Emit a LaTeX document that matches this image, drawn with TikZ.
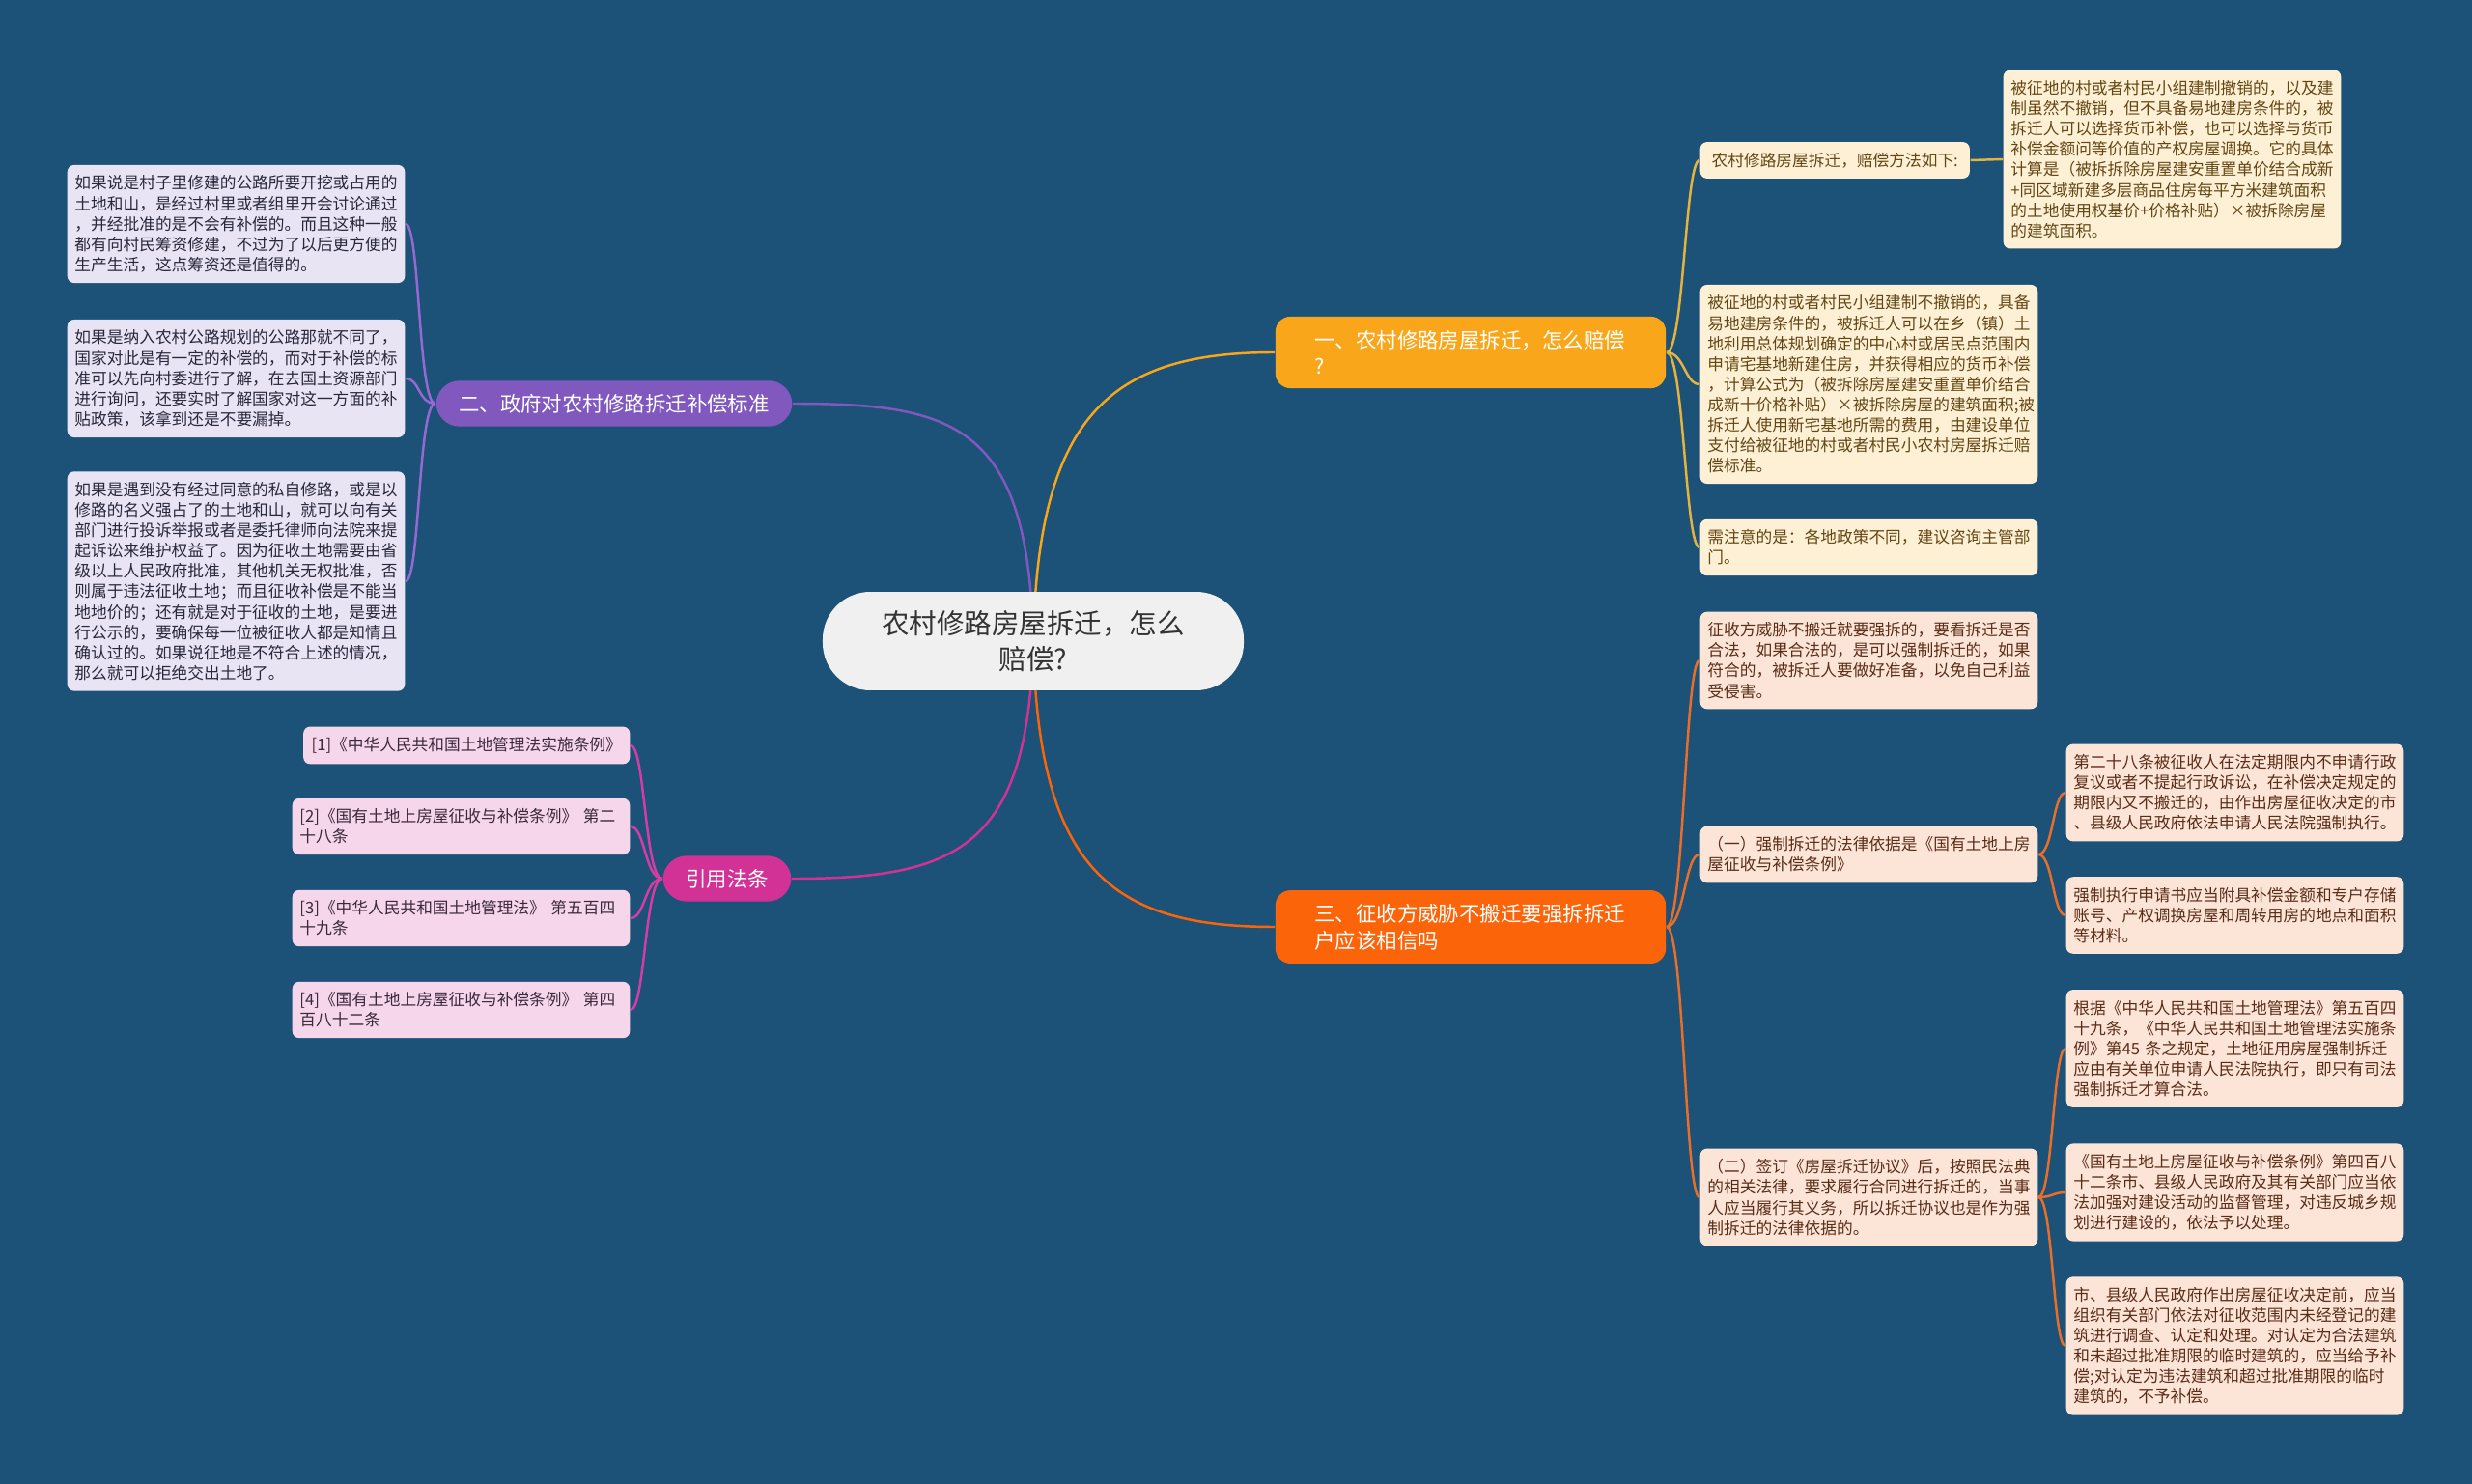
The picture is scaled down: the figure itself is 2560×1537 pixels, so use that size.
\documentclass[tikz,border=0pt]{standalone}
\usepackage{fontspec}
\newfontfamily\cjkfont{Noto Sans CJK SC}
\usepackage{tikz}
\usetikzlibrary{positioning}

\definecolor{bgblue}{RGB}{28,82,120}
\definecolor{rootfill}{RGB}{240,240,240}
\definecolor{rootink}{RGB}{51,51,51}
\definecolor{amber}{RGB}{250,166,26}
\definecolor{redorange}{RGB}{252,100,10}
\definecolor{violet}{RGB}{128,88,190}
\definecolor{magenta}{RGB}{210,50,150}
\definecolor{creamA}{RGB}{253,240,213}
\definecolor{peachC}{RGB}{252,228,214}
\definecolor{lavB}{RGB}{232,228,243}
\definecolor{pinkD}{RGB}{245,214,234}
\definecolor{inkA}{RGB}{100,70,20}
\definecolor{inkC}{RGB}{90,45,25}
\definecolor{inkB}{RGB}{40,40,60}
\definecolor{inkD}{RGB}{60,40,60}
\definecolor{lineA}{RGB}{230,180,60}
\definecolor{lineC}{RGB}{235,110,40}
\definecolor{lineB}{RGB}{150,105,210}
\definecolor{lineD}{RGB}{215,60,165}

\pgfdeclarelayer{back}
\pgfsetlayers{back,main}

\begin{document}
\begin{tikzpicture}[
x=0.01cm, y=-0.01cm,
root/.style={font=\cjkfont\fontsize{8.1}{10.7}\selectfont, fill=rootfill, text=rootink, rounded corners=14pt, minimum width=124pt, minimum height=29pt, align=center},
branch/.style={font=\cjkfont\fontsize{6.1}{7.9}\selectfont, text=white, inner ysep=3.9pt},
bigbranch/.style={branch, text width=92pt, align=left, inner xsep=11.5pt, inner ysep=4pt, rounded corners=4.5pt},
smallbranch/.style={branch, inner xsep=6.7pt, rounded corners=7pt},
leaf/.style={font=\cjkfont\fontsize{4.75}{6}\selectfont, rounded corners=2pt, inner xsep=2.4pt, inner ysep=3.1pt},
wide/.style={leaf, text width=95pt, inner xsep=2.2pt, align=left},
link/.style={line width=0.7pt} ]

\useasboundingbox (0,0) rectangle (2560,1537);
\begin{pgfonlayer}{back}
\fill[bgblue] (0,0) rectangle (2560,1537);
\end{pgfonlayer}

\node[root](R) at (1070,664) {农村修路房屋拆迁，怎么\\赔偿?};

\node[bigbranch, fill=amber](B1) at (1523,365) {一、农村修路房屋拆迁，怎么赔偿\\?};
\node[smallbranch, fill=violet](B2) at (636,418) {二、政府对农村修路拆迁补偿标准};
\node[bigbranch, fill=redorange](B3) at (1523,960) {三、征收方威胁不搬迁要强拆拆迁\\户应该相信吗};
\node[smallbranch, fill=magenta](B4) at (753,910) {引用法条};

\node[leaf, fill=creamA, text=inkA, anchor=west, inner xsep=3.4pt](A1) at (1760,166) {农村修路房屋拆迁，赔偿方法如下:};
\node[wide, fill=creamA, text=inkA, anchor=west](A11) at (2074,165) {被征地的村或者村民小组建制撤销的，以及建\\制虽然不撤销，但不具备易地建房条件的，被\\拆迁人可以选择货币补偿，也可以选择与货币\\补偿金额问等价值的产权房屋调换。它的具体\\计算是（被拆拆除房屋建安重置单价结合成新\\+同区域新建多层商品住房每平方米建筑面积\\的土地使用权基价+价格补贴）×被拆除房屋\\的建筑面积。};
\node[wide, fill=creamA, text=inkA, anchor=west](A2) at (1760,398) {被征地的村或者村民小组建制不撤销的，具备\\易地建房条件的，被拆迁人可以在乡（镇）土\\地利用总体规划确定的中心村或居民点范围内\\申请宅基地新建住房，并获得相应的货币补偿\\，计算公式为（被拆除房屋建安重置单价结合\\成新十价格补贴）×被拆除房屋的建筑面积;被\\拆迁人使用新宅基地所需的费用，由建设单位\\支付给被征地的村或者村民小农村房屋拆迁赔\\偿标准。};
\node[wide, fill=creamA, text=inkA, anchor=west](A3) at (1760,567) {需注意的是：各地政策不同，建议咨询主管部\\门。};

\node[wide, fill=peachC, text=inkC, anchor=west](C1) at (1760,684) {征收方威胁不搬迁就要强拆的，要看拆迁是否\\合法，如果合法的，是可以强制拆迁的，如果\\符合的，被拆迁人要做好准备，以免自己利益\\受侵害。};
\node[wide, fill=peachC, text=inkC, anchor=west](C2) at (1760,885) {（一）强制拆迁的法律依据是《国有土地上房\\屋征收与补偿条例》};
\node[wide, fill=peachC, text=inkC, anchor=west](C3) at (1760,1240) {（二）签订《房屋拆迁协议》后，按照民法典\\的相关法律，要求履行合同进行拆迁的，当事\\人应当履行其义务，所以拆迁协议也是作为强\\制拆迁的法律依据的。};
\node[wide, fill=peachC, text=inkC, anchor=west](C21) at (2139,821) {第二十八条被征收人在法定期限内不申请行政\\复议或者不提起行政诉讼，在补偿决定规定的\\期限内又不搬迁的，由作出房屋征收决定的市\\、县级人民政府依法申请人民法院强制执行。};
\node[wide, fill=peachC, text=inkC, anchor=west](C22) at (2139,948) {强制执行申请书应当附具补偿金额和专户存储\\账号、产权调换房屋和周转用房的地点和面积\\等材料。};
\node[wide, fill=peachC, text=inkC, anchor=west](C31) at (2139,1086) {根据《中华人民共和国土地管理法》第五百四\\十九条，《中华人民共和国土地管理法实施条\\例》第45 条之规定，土地征用房屋强制拆迁\\应由有关单位申请人民法院执行，即只有司法\\强制拆迁才算合法。};
\node[wide, fill=peachC, text=inkC, anchor=west](C32) at (2139,1235) {《国有土地上房屋征收与补偿条例》第四百八\\十二条市、县级人民政府及其有关部门应当依\\法加强对建设活动的监督管理，对违反城乡规\\划进行建设的，依法予以处理。};
\node[wide, fill=peachC, text=inkC, anchor=west](C33) at (2139,1394) {市、县级人民政府作出房屋征收决定前，应当\\组织有关部门依法对征收范围内未经登记的建\\筑进行调查、认定和处理。对认定为合法建筑\\和未超过批准期限的临时建筑的，应当给予补\\偿;对认定为违法建筑和超过批准期限的临时\\建筑的，不予补偿。};

\node[wide, fill=lavB, text=inkB, anchor=east](L1) at (420,232) {如果说是村子里修建的公路所要开挖或占用的\\土地和山，是经过村里或者组里开会讨论通过\\，并经批准的是不会有补偿的。而且这种一般\\都有向村民筹资修建，不过为了以后更方便的\\生产生活，这点筹资还是值得的。};
\node[wide, fill=lavB, text=inkB, anchor=east](L2) at (420,392) {如果是纳入农村公路规划的公路那就不同了，\\国家对此是有一定的补偿的，而对于补偿的标\\准可以先向村委进行了解，在去国土资源部门\\进行询问，还要实时了解国家对这一方面的补\\贴政策，该拿到还是不要漏掉。};
\node[wide, fill=lavB, text=inkB, anchor=east](L3) at (420,602) {如果是遇到没有经过同意的私自修路，或是以\\修路的名义强占了的土地和山，就可以向有关\\部门进行投诉举报或者是委托律师向法院来提\\起诉讼来维护权益了。因为征收土地需要由省\\级以上人民政府批准，其他机关无权批准，否\\则属于违法征收土地；而且征收补偿是不能当\\地地价的；还有就是对于征收的土地，是要进\\行公示的，要确保每一位被征收人都是知情且\\确认过的。如果说征地是不符合上述的情况，\\那么就可以拒绝交出土地了。};

\node[leaf, fill=pinkD, text=inkD, anchor=east](D1) at (653,772) {[1]《中华人民共和国土地管理法实施条例》};
\node[wide, fill=pinkD, text=inkD, anchor=east](D2) at (653,856) {[2]《国有土地上房屋征收与补偿条例》 第二\\十八条};
\node[wide, fill=pinkD, text=inkD, anchor=east](D3) at (653,951) {[3]《中华人民共和国土地管理法》 第五百四\\十九条};
\node[wide, fill=pinkD, text=inkD, anchor=east](D4) at (653,1046) {[4]《国有土地上房屋征收与补偿条例》 第四\\百八十二条};

\begin{pgfonlayer}{back}
\draw[link, draw=amber] (R.center) .. controls (1075,430) and (1150,365) .. (B1.west);
\draw[link, draw=violet] (R.center) .. controls (1065,440) and (990,418) .. (B2.east);
\draw[link, draw=redorange] (R.center) .. controls (1075,900) and (1150,960) .. (B3.west);
\draw[link, draw=magenta] (R.center) .. controls (1065,880) and (990,910) .. (B4.east);

\draw[link, draw=lineA] (B1.east) .. controls +(18,0) and +(-15,0) .. (A1.west);
\draw[link, draw=lineA] (B1.east) .. controls +(18,0) and +(-15,0) .. (A2.west);
\draw[link, draw=lineA] (B1.east) .. controls +(18,0) and +(-15,0) .. (A3.west);
\draw[link, draw=lineA] (A1.east) -- (A11.west);

\draw[link, draw=lineC] (B3.east) .. controls +(18,0) and +(-15,0) .. (C1.west);
\draw[link, draw=lineC] (B3.east) .. controls +(18,0) and +(-15,0) .. (C2.west);
\draw[link, draw=lineC] (B3.east) .. controls +(18,0) and +(-15,0) .. (C3.west);
\draw[link, draw=lineC] (C2.east) .. controls +(15,0) and +(-13,0) .. (C21.west);
\draw[link, draw=lineC] (C2.east) .. controls +(15,0) and +(-13,0) .. (C22.west);
\draw[link, draw=lineC] (C3.east) .. controls +(15,0) and +(-13,0) .. (C31.west);
\draw[link, draw=lineC] (C3.east) .. controls +(15,0) and +(-13,0) .. (C32.west);
\draw[link, draw=lineC] (C3.east) .. controls +(15,0) and +(-13,0) .. (C33.west);

\draw[link, draw=lineB] (B2.west) .. controls +(-18,0) and +(15,0) .. (L1.east);
\draw[link, draw=lineB] (B2.west) .. controls +(-18,0) and +(15,0) .. (L2.east);
\draw[link, draw=lineB] (B2.west) .. controls +(-18,0) and +(15,0) .. (L3.east);

\draw[link, draw=lineD] (B4.west) .. controls +(-18,0) and +(15,0) .. (D1.east);
\draw[link, draw=lineD] (B4.west) .. controls +(-18,0) and +(15,0) .. (D2.east);
\draw[link, draw=lineD] (B4.west) .. controls +(-18,0) and +(15,0) .. (D3.east);
\draw[link, draw=lineD] (B4.west) .. controls +(-18,0) and +(15,0) .. (D4.east);
\end{pgfonlayer}

\end{tikzpicture}
\end{document}
